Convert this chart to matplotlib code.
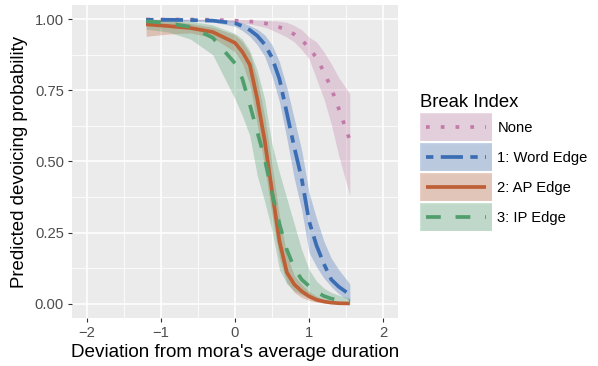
import matplotlib
matplotlib.use('Agg')
import matplotlib.pyplot as plt
from matplotlib.patches import Rectangle
from matplotlib.lines import Line2D
from matplotlib.legend_handler import HandlerBase

plt.rcParams['font.family'] = ['Liberation Sans', 'DejaVu Sans']

# --- data ---
x_dev = [-1.2, -0.9, -0.6, -0.3, 0.0, 0.1, 0.2, 0.3, 0.4, 0.5,
         0.6, 0.7, 0.8, 0.9, 1.0, 1.1, 1.2, 1.3, 1.4, 1.55]

none_fit = [0.999, 0.999, 0.999, 0.998, 0.995, 0.994, 0.992, 0.990, 0.986, 0.980,
            0.972, 0.962, 0.947, 0.927, 0.900, 0.864, 0.815, 0.757, 0.686, 0.575]
none_lo = [0.995, 0.996, 0.996, 0.995, 0.990, 0.987, 0.983, 0.978, 0.972, 0.962,
           0.950, 0.937, 0.920, 0.893, 0.860, 0.790, 0.720, 0.630, 0.520, 0.380]
none_hi = [1.000, 1.000, 1.000, 1.000, 0.999, 0.999, 0.998, 0.997, 0.996, 0.995,
           0.993, 0.989, 0.978, 0.963, 0.937, 0.920, 0.885, 0.843, 0.795, 0.738]

word_fit = [0.998, 0.998, 0.997, 0.995, 0.986, 0.976, 0.962, 0.942, 0.912, 0.865,
            0.790, 0.670, 0.550, 0.440, 0.290, 0.205, 0.140, 0.085, 0.060, 0.032]
word_lo = [0.990, 0.993, 0.993, 0.990, 0.975, 0.960, 0.940, 0.910, 0.870, 0.800,
           0.710, 0.580, 0.440, 0.330, 0.180, 0.130, 0.090, 0.060, 0.035, 0.010]
word_hi = [1.000, 1.000, 1.000, 0.999, 0.994, 0.988, 0.978, 0.965, 0.945, 0.910,
           0.850, 0.760, 0.650, 0.540, 0.390, 0.300, 0.220, 0.160, 0.120, 0.070]

ap_fit = [0.982, 0.976, 0.969, 0.955, 0.917, 0.885, 0.840, 0.720, 0.575, 0.395,
          0.220, 0.110, 0.068, 0.044, 0.026, 0.014, 0.008, 0.004, 0.002, 0.001]
ap_lo = [0.940, 0.948, 0.952, 0.935, 0.885, 0.845, 0.770, 0.630, 0.480, 0.310,
         0.160, 0.075, 0.040, 0.022, 0.012, 0.006, 0.003, 0.001, 0.000, 0.000]
ap_hi = [1.000, 0.995, 0.985, 0.972, 0.945, 0.920, 0.880, 0.790, 0.660, 0.490,
         0.310, 0.170, 0.100, 0.068, 0.043, 0.027, 0.016, 0.009, 0.005, 0.003]

ip_fit = [0.993, 0.986, 0.973, 0.935, 0.845, 0.790, 0.700, 0.605, 0.510, 0.390,
          0.280, 0.190, 0.125, 0.085, 0.062, 0.042, 0.027, 0.018, 0.012, 0.008]
ip_lo = [0.965, 0.955, 0.930, 0.875, 0.720, 0.660, 0.590, 0.450, 0.360, 0.257,
         0.120, 0.070, 0.045, 0.032, 0.022, 0.014, 0.009, 0.006, 0.004, 0.002]
ip_hi = [1.000, 0.997, 0.993, 0.980, 0.950, 0.930, 0.890, 0.820, 0.720, 0.560,
         0.460, 0.370, 0.280, 0.190, 0.120, 0.080, 0.055, 0.040, 0.030, 0.020]

labels = ['None', '1: Word Edge', '2: AP Edge', '3: IP Edge']
colors = ['#C27BA8', '#3A6DB3', '#BE5F36', '#4F9E6C']
styles = [(0, (1, 3)), (0, (2, 2, 6, 2)), '-', (0, (4, 4))]

fits = [none_fit, word_fit, ap_fit, ip_fit]
los = [none_lo, word_lo, ap_lo, ip_lo]
his = [none_hi, word_hi, ap_hi, ip_hi]


class KeyHandler(HandlerBase):
    # ggplot-like key: grey box, translucent fill, line centred with small inset
    def create_artists(self, legend, orig_handle, xdescent, ydescent,
                       width, height, fontsize, trans):
        c = orig_handle.get_color()
        bg = Rectangle((-xdescent, -ydescent), width, height, facecolor='#F2F2F2',
                       edgecolor='white', linewidth=1.0, transform=trans)
        fill = Rectangle((-xdescent, -ydescent), width, height, facecolor=c,
                         alpha=0.3, edgecolor='none', transform=trans)
        ymid = height / 2 - ydescent
        pad = 0.08 * width
        ln = Line2D([-xdescent + pad, -xdescent + width - pad], [ymid, ymid])
        self.update_prop(ln, orig_handle, legend)
        ln.set_transform(trans)
        return [bg, fill, ln]


# --- figure ---
W, H = 598, 366
fig = plt.figure(figsize=(W / 100, H / 100), dpi=100)
ax = fig.add_axes([72 / W, 48 / H, 326 / W, 313 / H])
ax.set_facecolor('#EBEBEB')
for s in ax.spines.values():
    s.set_visible(False)

# ribbons first, lines on top
for lo, hi, c in zip(los, his, colors):
    ax.fill_between(x_dev, lo, hi, color=c, alpha=0.3, linewidth=0)
lw = 2.66
lines = []
for y, c, ls in zip(fits, colors, styles):
    ln, = ax.plot(x_dev, y, color=c, lw=lw, linestyle=ls,
                  dash_capstyle='butt', solid_capstyle='butt')
    lines.append(ln)

ax.set_xlim(-2.2, 2.2)
ax.set_ylim(-0.05, 1.05)
ax.set_xticks([-2, -1, 0, 1, 2])
ax.set_xticklabels(['\u22122', '\u22121', '0', '1', '2'])
ax.set_xticks([-1.5, -0.5, 0.5, 1.5], minor=True)
ax.set_yticks([0, 0.25, 0.5, 0.75, 1.0])
ax.set_yticklabels(['0.00', '0.25', '0.50', '0.75', '1.00'])
ax.set_yticks([0.125, 0.375, 0.625, 0.875], minor=True)
ax.grid(which='major', color='white', linewidth=1.1)
ax.grid(which='minor', color='white', linewidth=0.55)
ax.set_axisbelow(True)
ax.tick_params(which='major', length=3.2, width=0.8, color='#333333',
               labelsize=10.6, labelcolor='#4D4D4D', pad=2.5)
ax.tick_params(which='minor', length=0)

ax.set_xlabel("Deviation from mora's average duration", fontsize=13.6, labelpad=3)
ax.set_ylabel('Predicted devoicing probability', fontsize=13.4, labelpad=5)

leg = fig.legend(lines, labels, title='Break Index', loc='upper left',
                 bbox_to_anchor=(420 / W, 1 - 94 / H), frameon=False,
                 handler_map={Line2D: KeyHandler()},
                 fontsize=10.6, title_fontsize=13.3, alignment='left',
                 handlelength=4.9, handleheight=2.55, labelspacing=0.14,
                 handletextpad=0.35, borderpad=0, borderaxespad=0)

fig.savefig('out.png', dpi=100)
